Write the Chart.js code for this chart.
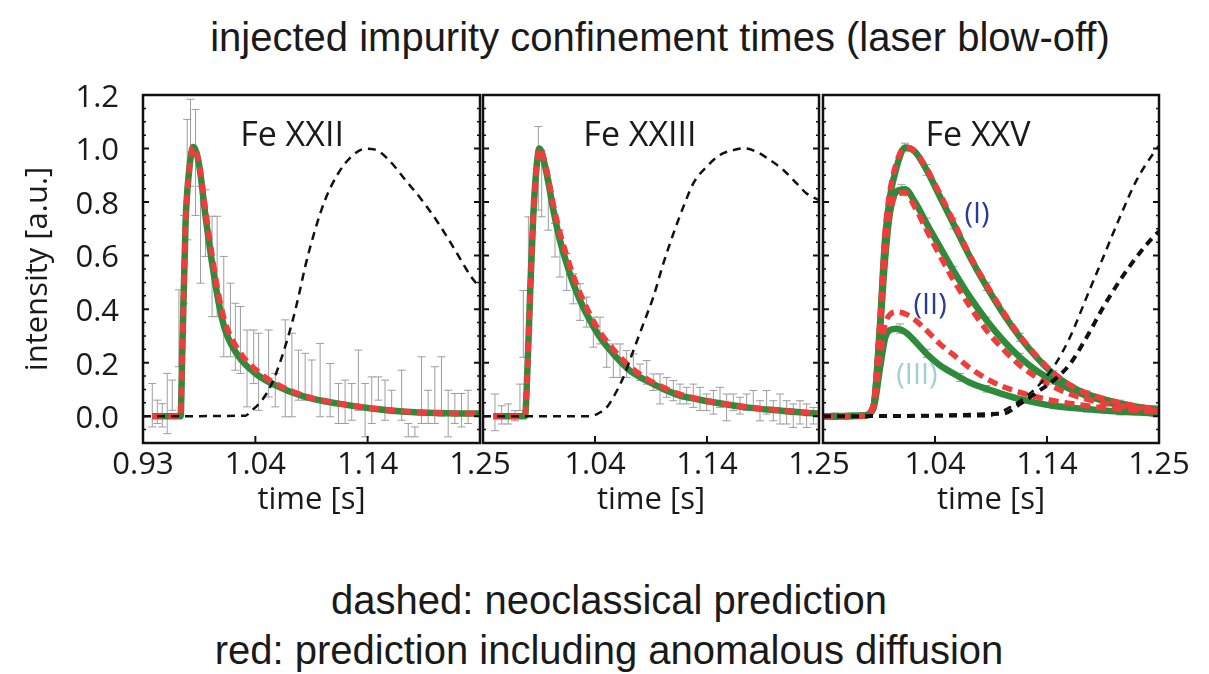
<!DOCTYPE html>
<html>
<head>
<meta charset="utf-8">
<title>injected impurity confinement times</title>
<script src="https://cdn.jsdelivr.net/npm/chart.js@4.4.0/dist/chart.umd.min.js"></script>
<style>
    body { margin: 0; background: #fff; width: 1209px; height: 674px; overflow: hidden; position: relative; }
    canvas { position: absolute; top: 80px; }
    #fe22Chart { left: 0; }
    #fe23Chart { left: 440px; }
    #fe25Chart { left: 780px; }
    .caption { position: absolute; text-align: center; color: #1a1a1a; font-family: "Liberation Sans", Arial, sans-serif; font-size: 40px; }
    #mainTitle { left: 110px; width: 1100px; top: 14px; line-height: 46px; }
    #footNote { left: 9px; width: 1200px; top: 575px; line-height: 50px; }
</style>
</head>
<body>
<div id="mainTitle" class="caption">injected impurity confinement times (laser blow-off)</div>
<canvas id="fe22Chart" width="530" height="450"></canvas>
<canvas id="fe23Chart" width="430" height="450"></canvas>
<canvas id="fe25Chart" width="429" height="450"></canvas>
<div id="footNote" class="caption">dashed: neoclassical prediction<br>red: prediction including anomalous diffusion</div>

<script>
/* ============================================= */
/*                 CHART DATA                    */
/* ============================================= */

// Axis ticks
const xTickValues = [0.93, 1.0367, 1.1433, 1.25];
const xTickLabelsFirst = ['0.93', '1.04', '1.14', '1.25'];
const xTickLabelsOther = ['', '1.04', '1.14', '1.25'];
const yTickValues = [0, 0.2, 0.4, 0.6, 0.8, 1.0, 1.2];
const yMinorTicks = [-0.05, 0.05, 0.1, 0.15, 0.25, 0.3, 0.35, 0.45, 0.5, 0.55, 0.65, 0.7, 0.75,
    0.85, 0.9, 0.95, 1.05, 1.1, 1.15];

// ---- Fe XXII ----
const fe22Time = [0.9388, 0.9657, 0.9672, 0.9704, 0.9736, 0.9777, 0.983, 0.9894, 0.9956, 1.002, 1.008,
    1.021, 1.0367, 1.0524, 1.084, 1.1156, 1.147, 1.1788, 1.21, 1.2418, 1.25];
const fe22Fit = [0, 0, 0.222, 0.72, 0.909, 1.006, 0.946, 0.746, 0.572, 0.422, 0.322,
    0.222, 0.16, 0.122, 0.072, 0.047, 0.029, 0.017, 0.012, 0.01, 0.01];
const fe22Anom = [0, 0, 0.222, 0.72, 0.909, 1.006, 0.95, 0.77, 0.6, 0.45, 0.35,
    0.245, 0.175, 0.13, 0.075, 0.048, 0.03, 0.018, 0.012, 0.01, 0.01];
const fe22NeoTime = [0.93, 1.0272, 1.0335, 1.043, 1.0524, 1.0619, 1.0714, 1.0777, 1.084, 1.0935, 1.103,
    1.1156, 1.1282, 1.1409, 1.1504, 1.163, 1.1788, 1.1945, 1.2103, 1.2261, 1.2418, 1.25];
const fe22Neo = [0, 0.002, 0.022, 0.06, 0.122, 0.222, 0.347, 0.447, 0.559, 0.697, 0.809,
    0.909, 0.971, 0.999, 0.996, 0.959, 0.884, 0.809, 0.722, 0.622, 0.52, 0.48];
const fe22ErrTime = [0.9388, 0.9436, 0.9483, 0.953, 0.9578, 0.9641, 0.9688, 0.972, 0.9751, 0.9799, 0.9846,
    0.9893, 0.9956, 1.0004, 1.0067, 1.013, 1.0177, 1.0225, 1.0288, 1.0351, 1.0398, 1.0493, 1.0556,
    1.0651, 1.0714, 1.0777, 1.084, 1.0903, 1.0982, 1.1077, 1.1156, 1.1219, 1.1282, 1.1345, 1.1409,
    1.1472, 1.1535, 1.1598, 1.1661, 1.1756, 1.1819, 1.1882, 1.1945, 1.2008, 1.2071, 1.2134, 1.2198,
    1.2261, 1.2324, 1.2387];
const fe22ErrLow = [-0.04, -0.027, -0.04, -0.065, 0.022, 0.185, 0.42, 0.659, 0.859, 0.75, 0.497,
    0.597, 0.372, 0.372, 0.222, 0.222, 0.172, 0.16, 0.035, 0.122, 0.022, 0.072, 0.035,
    -0.002, -0.002, 0.06, 0.06, 0.06, -0.002, -0.002, -0.027, -0.027, -0.015, 0.022, -0.077,
    -0.027, 0.06, -0.015, 0.022, -0.015, -0.077, -0.077, -0.027, -0.027, -0.027, 0, -0.077,
    -0.027, -0.04, -0.027];
const fe22ErrHigh = [0.122, 0.06, 0.047, 0.16, 0.135, 0.472, 0.75, 1.109, 1.184, 1.146, 0.859,
    0.846, 0.747, 0.747, 0.597, 0.497, 0.422, 0.41, 0.322, 0.322, 0.31, 0.322, 0.16,
    0.36, 0.31, 0.247, 0.235, 0.21, 0.272, 0.197, 0.122, 0.135, 0.122, 0.247, 0.122,
    0.147, 0.147, 0.135, 0.097, 0.172, -0.027, -0.04, 0.222, 0.097, 0.185, 0.222, 0.097,
    0.085, 0.085, 0.097];

// ---- Fe XXIII ----
const fe23Time = [0.9398, 0.97, 0.9716, 0.9748, 0.9779, 0.981, 0.9837, 0.9906, 0.997, 1.0033, 1.0097,
    1.016, 1.0224, 1.0319, 1.0414, 1.0541, 1.07, 1.0859, 1.1017, 1.1176, 1.1335, 1.1494, 1.1811,
    1.2129, 1.2446, 1.25];
const fe23Fit = [0, 0, 0.1, 0.45, 0.75, 0.93, 1.0, 0.907, 0.77, 0.657, 0.57,
    0.495, 0.433, 0.358, 0.295, 0.233, 0.17, 0.133, 0.102, 0.077, 0.064, 0.052, 0.033,
    0.021, 0.011, 0.01];
const fe23Anom = [0, 0, 0.1, 0.45, 0.75, 0.93, 1.0, 0.92, 0.79, 0.685, 0.6,
    0.525, 0.46, 0.38, 0.315, 0.25, 0.185, 0.14, 0.108, 0.082, 0.066, 0.053, 0.034,
    0.022, 0.012, 0.01];
const fe23NeoTime = [0.93, 1.0319, 1.0414, 1.0478, 1.0541, 1.0636, 1.0732, 1.0827, 1.0922, 1.1017, 1.1113,
    1.1208, 1.1303, 1.143, 1.1557, 1.1684, 1.1779, 1.1906, 1.2033, 1.216, 1.2287, 1.2382, 1.25];
const fe23Neo = [0, 0, 0.014, 0.033, 0.071, 0.145, 0.245, 0.345, 0.445, 0.57, 0.682,
    0.782, 0.87, 0.932, 0.976, 0.994, 1.001, 0.988, 0.957, 0.92, 0.87, 0.832, 0.807];
const fe23ErrTime = [0.9414, 0.9478, 0.9541, 0.9605, 0.9652, 0.9684, 0.9732, 0.9827, 0.9859, 0.9922, 0.9986,
    1.0033, 1.0097, 1.016, 1.0224, 1.0287, 1.0351, 1.0414, 1.0478, 1.0541, 1.0605, 1.0668, 1.0732,
    1.0795, 1.0859, 1.0922, 1.0986, 1.1049, 1.1113, 1.1176, 1.124, 1.1303, 1.1367, 1.143, 1.1494,
    1.1557, 1.162, 1.1684, 1.1747, 1.1811, 1.1874, 1.1938, 1.2001, 1.2065, 1.2129, 1.2192, 1.2255,
    1.2319, 1.2382, 1.2446];
const fe23ErrLow = [-0.054, -0.029, -0.029, -0.017, 0.021, 0.22, 0.47, 0.77, 0.745, 0.695, 0.595,
    0.52, 0.47, 0.42, 0.358, 0.333, 0.258, 0.27, 0.183, 0.145, 0.145, 0.145, 0.158,
    0.133, 0.12, 0.096, 0.046, 0.071, 0.058, 0.046, 0.046, 0.033, 0.021, 0.021, 0.008,
    0.033, -0.017, 0.021, 0.008, 0.021, 0.021, -0.017, 0.008, -0.017, -0.029, -0.029, -0.042,
    -0.029, -0.042, -0.029];
const fe23ErrHigh = [0.083, 0.039, 0.046, 0.021, 0.12, 0.47, 0.745, 1.082, 0.994, 0.882, 0.72,
    0.695, 0.607, 0.532, 0.495, 0.445, 0.37, 0.37, 0.283, 0.27, 0.27, 0.245, 0.233,
    0.195, 0.208, 0.158, 0.158, 0.145, 0.133, 0.12, 0.108, 0.12, 0.108, 0.083, 0.096,
    0.108, 0.083, 0.083, 0.071, 0.083, 0.096, 0.058, 0.096, 0.058, 0.083, 0.058, 0.046,
    0.058, 0.046, 0.033];

// ---- Fe XXV (three cases on a shared time grid) ----
const fe25Time = [0.93, 0.9684, 0.9779, 0.9843, 0.989, 0.9938, 1.0002, 1.0081, 1.0176, 1.0287, 1.0414,
    1.0541, 1.07, 1.0859, 1.1017, 1.1176, 1.1335, 1.1494, 1.1652, 1.1811, 1.197, 1.2129, 1.2287,
    1.2446, 1.25];
const fe25FitI = [0, 0.002, 0.033, 0.345, 0.657, 0.82, 0.932, 1.004, 0.988, 0.92, 0.82,
    0.72, 0.595, 0.483, 0.383, 0.295, 0.22, 0.158, 0.114, 0.083, 0.064, 0.048, 0.036,
    0.027, 0.025];
const fe25AnomI = [0, 0.002, 0.04, 0.36, 0.68, 0.84, 0.95, 1.005, 0.99, 0.925, 0.83,
    0.73, 0.6, 0.49, 0.39, 0.3, 0.225, 0.162, 0.117, 0.086, 0.066, 0.05, 0.038,
    0.029, 0.027];
const fe25FitII = [0, 0.002, 0.033, 0.32, 0.58, 0.76, 0.84, 0.848, 0.8, 0.72, 0.632,
    0.545, 0.445, 0.358, 0.283, 0.22, 0.17, 0.133, 0.102, 0.077, 0.058, 0.039, 0.031,
    0.021, 0.02];
const fe25AnomII = [0, 0.002, 0.04, 0.34, 0.6, 0.76, 0.83, 0.835, 0.78, 0.695, 0.6,
    0.51, 0.41, 0.32, 0.25, 0.19, 0.145, 0.11, 0.083, 0.064, 0.05, 0.038, 0.03,
    0.021, 0.02];
const fe25FitIII = [0, 0.002, 0.027, 0.18, 0.29, 0.322, 0.327, 0.315, 0.28, 0.233, 0.19,
    0.16, 0.125, 0.102, 0.082, 0.064, 0.05, 0.039, 0.032, 0.027, 0.021, 0.017, 0.014,
    0.011, 0.01];
const fe25AnomIII = [0, 0.002, 0.03, 0.22, 0.34, 0.38, 0.389, 0.383, 0.36, 0.32, 0.27,
    0.23, 0.18, 0.14, 0.11, 0.089, 0.072, 0.058, 0.048, 0.039, 0.032, 0.027, 0.022,
    0.017, 0.015];
const fe25NeoTimeA = [0.93, 1.0859, 1.1017, 1.1176, 1.1335, 1.1494, 1.1652, 1.1811, 1.197, 1.2129, 1.2287,
    1.2446, 1.25];
const fe25NeoA = [0, 0, 0.021, 0.058, 0.108, 0.183, 0.295, 0.445, 0.595, 0.745, 0.882,
    0.982, 1.01];
const fe25NeoTimeB = [0.93, 1.1017, 1.1176, 1.1335, 1.1494, 1.1652, 1.1811, 1.197, 1.2129, 1.2287, 1.2446,
    1.25];
const fe25NeoB = [0, 0.01, 0.046, 0.089, 0.133, 0.195, 0.295, 0.408, 0.508, 0.595, 0.67,
    0.69];
const fe25ErrTime = [0.9414, 0.9541, 1.0081, 1.0287, 1.0541, 1.0859, 1.1176, 1.1494, 1.1811, 1.2129, 1.2446,
    1.0049, 1.0287, 1.0541, 1.0859, 1.1176, 1.1494, 1.1811, 1.2129, 1.2446,
    1.0033, 1.0287, 1.0605, 1.0859, 1.1176, 1.1494, 1.1811, 1.2129, 1.2446];
const fe25ErrLow = [-0.012, -0.01, 0.99, 0.9, 0.7, 0.47, 0.28, 0.145, 0.07, 0.035, 0.015,
    0.835, 0.7, 0.53, 0.34, 0.205, 0.12, 0.065, 0.03, 0.01,
    0.31, 0.22, 0.13, 0.09, 0.05, 0.028, 0.015, 0.005, 0];
const fe25ErrHigh = [0.012, 0.01, 1.02, 0.94, 0.74, 0.5, 0.31, 0.17, 0.095, 0.06, 0.04,
    0.865, 0.74, 0.56, 0.37, 0.235, 0.145, 0.09, 0.05, 0.03,
    0.345, 0.25, 0.16, 0.115, 0.075, 0.05, 0.04, 0.03, 0.022];

/* ============================================= */
/*                 STYLES                        */
/* ============================================= */

const TEXT_COLOR = '#1a1a1a';
const GREEN = '#2e8b3c';
const RED = '#ee3d3b';
const ERR_GREY = '#9d9d9d';
const AXIS_FONT = { family: '"Open Sans", sans-serif', size: 31 };

// Build {x, y} points from a time array and a value array
function toPoints(times, values) {
    return times.map((t, i) => ({ x: t, y: values[i] }));
}

// Error bars: low/high pairs separated by gaps so each bar is its own segment
function errorPoints(times, lows, highs) {
    const pts = [];
    times.forEach((t, i) => {
        pts.push({ x: t, y: lows[i] }, { x: t, y: highs[i] }, { x: t, y: null });
    });
    return pts;
}

function fitLine(times, values) {
    return { data: toPoints(times, values), borderColor: GREEN, borderWidth: 6.5, pointRadius: 0,
        cubicInterpolationMode: 'monotone', order: 2 };
}

function anomLine(times, values) {
    return { data: toPoints(times, values), borderColor: RED, borderWidth: 5.5, borderDash: [10, 6],
        pointRadius: 0, cubicInterpolationMode: 'monotone', order: 1 };
}

function neoLine(times, values, width) {
    return { data: toPoints(times, values), borderColor: '#111', borderWidth: width, borderDash: [8, 6],
        pointRadius: 0, cubicInterpolationMode: 'monotone', order: 0 };
}

function errorSet(times, lows, highs) {
    return { data: errorPoints(times, lows, highs), borderColor: ERR_GREY, borderWidth: 1,
        pointStyle: 'line', pointRadius: 4, pointBorderColor: ERR_GREY, pointBorderWidth: 1,
        spanGaps: false, order: 3 };
}

/* ============================================= */
/*        FRAME, INWARD TICKS AND LABELS         */
/* ============================================= */

const panelFrame = {
    id: 'panelFrame',
    afterDatasetsDraw(chart, args, opts) {
        const { ctx, chartArea: a, scales: { x, y } } = chart;
        ctx.save();
        ctx.strokeStyle = '#111';
        ctx.setLineDash([]);

        // minor y ticks on both sides
        ctx.lineWidth = 1.5;
        ctx.beginPath();
        yMinorTicks.forEach(v => {
            const py = y.getPixelForValue(v);
            ctx.moveTo(a.left, py); ctx.lineTo(a.left + 3, py);
            ctx.moveTo(a.right, py); ctx.lineTo(a.right - 3, py);
        });
        ctx.stroke();

        // major y ticks
        ctx.lineWidth = 2;
        ctx.beginPath();
        yTickValues.forEach(v => {
            const py = y.getPixelForValue(v);
            ctx.moveTo(a.left, py); ctx.lineTo(a.left + 6, py);
            ctx.moveTo(a.right, py); ctx.lineTo(a.right - 6, py);
        });
        // major x ticks on the bottom
        xTickValues.forEach(v => {
            const px = x.getPixelForValue(v);
            ctx.moveTo(px, a.bottom); ctx.lineTo(px, a.bottom - 7);
        });
        ctx.stroke();

        // box
        ctx.lineWidth = 2.5;
        ctx.strokeRect(a.left, a.top, a.right - a.left, a.bottom - a.top);

        // panel labels
        ctx.textAlign = 'center';
        ctx.textBaseline = 'middle';
        (opts.labels || []).forEach(l => {
            ctx.font = l.size + 'px "Open Sans", sans-serif';
            ctx.fillStyle = l.color;
            ctx.fillText(l.text, x.getPixelForValue(l.t), y.getPixelForValue(l.v));
        });
        ctx.restore();
    }
};

/* ============================================= */
/*                 CHART SETUP                   */
/* ============================================= */

function makePanel(canvasId, datasets, cfg) {
    return new Chart(document.getElementById(canvasId), {
        type: 'line',
        data: { datasets },
        options: {
            responsive: false,
            animation: false,
            events: [],
            layout: { padding: { top: 15, bottom: 0, left: cfg.padLeft, right: cfg.padRight } },
            plugins: {
                legend: { display: false },
                tooltip: { enabled: false },
                panelFrame: { labels: cfg.labels }
            },
            scales: {
                x: {
                    type: 'linear',
                    min: 0.93,
                    max: 1.25,
                    grid: { display: false },
                    border: { display: false },
                    afterBuildTicks: s => { s.ticks = xTickValues.map(v => ({ value: v })); },
                    afterFit: s => { s.height = 87; s.paddingLeft = 0; s.paddingRight = 0; },
                    ticks: {
                        autoSkip: false, maxRotation: 0, padding: -4,
                        color: TEXT_COLOR, font: AXIS_FONT,
                        callback: (v, i) => cfg.xLabels[i]
                    },
                    title: { display: true, text: 'time [s]', color: TEXT_COLOR, font: AXIS_FONT,
                        padding: { top: 0, bottom: 11 } }
                },
                y: {
                    min: -0.1,
                    max: 1.2,
                    display: cfg.showY,
                    grid: { display: false },
                    border: { display: false },
                    afterBuildTicks: s => { s.ticks = yTickValues.map(v => ({ value: v })); },
                    afterFit: s => { s.width = cfg.showY ? 143 : 0; s.paddingTop = 0; s.paddingBottom = 0; },
                    ticks: { padding: 16, labelOffset: 3, color: TEXT_COLOR, font: AXIS_FONT,
                        callback: v => v.toFixed(1) },
                    title: { display: true, text: 'intensity [a.u.]', color: TEXT_COLOR, font: AXIS_FONT,
                        padding: { top: 20, bottom: 0 } }
                }
            }
        },
        plugins: [panelFrame]
    });
}

// Fe XXII
makePanel('fe22Chart', [
    neoLine(fe22NeoTime, fe22Neo, 2.5),
    anomLine(fe22Time, fe22Anom),
    fitLine(fe22Time, fe22Fit),
    errorSet(fe22ErrTime, fe22ErrLow, fe22ErrHigh)
], {
    padLeft: 0, padRight: 50, showY: true, xLabels: xTickLabelsFirst,
    labels: [{ text: 'Fe XXII', t: 1.0715, v: 1.047, color: TEXT_COLOR, size: 34 }]
});

// Fe XXIII
makePanel('fe23Chart', [
    neoLine(fe23NeoTime, fe23Neo, 2.5),
    anomLine(fe23Time, fe23Anom),
    fitLine(fe23Time, fe23Fit),
    errorSet(fe23ErrTime, fe23ErrLow, fe23ErrHigh)
], {
    padLeft: 43, padRight: 51, showY: false, xLabels: xTickLabelsOther,
    labels: [{ text: 'Fe XXIII', t: 1.0795, v: 1.047, color: TEXT_COLOR, size: 34 }]
});

// Fe XXV
makePanel('fe25Chart', [
    neoLine(fe25NeoTimeA, fe25NeoA, 2.5),
    neoLine(fe25NeoTimeB, fe25NeoB, 4),
    anomLine(fe25Time, fe25AnomI),
    anomLine(fe25Time, fe25AnomII),
    anomLine(fe25Time, fe25AnomIII),
    fitLine(fe25Time, fe25FitI),
    fitLine(fe25Time, fe25FitII),
    fitLine(fe25Time, fe25FitIII),
    errorSet(fe25ErrTime, fe25ErrLow, fe25ErrHigh)
], {
    padLeft: 43, padRight: 50, showY: false, xLabels: xTickLabelsOther,
    labels: [
        { text: 'Fe XXV', t: 1.0776, v: 1.047, color: TEXT_COLOR, size: 34 },
        { text: '(I)', t: 1.0767, v: 0.751, color: '#2b3a92', size: 29 },
        { text: '(II)', t: 1.032, v: 0.414, color: '#2b3a92', size: 29 },
        { text: '(III)', t: 1.0195, v: 0.152, color: '#9fd0d4', size: 29 }
    ]
});
</script>
</body>
</html>
